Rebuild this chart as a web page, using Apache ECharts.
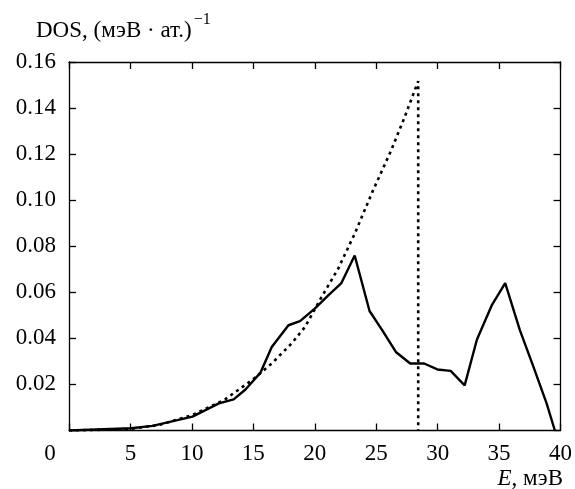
<!DOCTYPE html>
<html><head><meta charset="utf-8">
<script src="https://cdn.jsdelivr.net/npm/echarts@6/dist/echarts.min.js"></script>
<style>html,body{margin:0;padding:0;background:#fff}#c{width:575px;height:489px}</style>
</head><body><div id="c"></div>
<script>
const solidX = [0, 5.06, 6.8, 10.05, 12.2, 13.4, 14.36, 15.57, 16.5, 17.86, 18.8, 20.0, 21.1, 22.17, 23.25, 24.46, 25.5, 26.6, 27.77, 28.9, 29.98, 31.06, 32.2, 33.2, 34.4, 35.5, 36.7, 37.8, 38.87, 39.54];
const solidY = [0, 0.001, 0.002, 0.006, 0.0118, 0.0135, 0.0178, 0.025, 0.0363, 0.0457, 0.0475, 0.0529, 0.0587, 0.064, 0.076, 0.0519, 0.0435, 0.0341, 0.0291, 0.0291, 0.0265, 0.0259, 0.0196, 0.0395, 0.0543, 0.064, 0.0435, 0.0276, 0.0118, 0.0];
const dottedX = [0, 4.66, 7.35, 10.05, 12.7, 14.9, 16.5, 18.1, 19.2, 20.55, 21.9, 23.25, 24.73, 26.2, 27.3, 28.42, 28.42];
const dottedY = [0, 0.0005, 0.0024, 0.0067, 0.0135, 0.0219, 0.0291, 0.0377, 0.0449, 0.0579, 0.0702, 0.0854, 0.1041, 0.1214, 0.1358, 0.1517, 0];
const xTicks = [0, 5, 10, 15, 20, 25, 30, 35, 40];
const yTicks = [0.02, 0.04, 0.06, 0.08, 0.10, 0.12, 0.14, 0.16];
const yTitle = 'DOS, (мэВ · ат.)';
const xTitle = 'E';
const xUnit = ', мэВ';

const FONT = '"Liberation Serif", "DejaVu Serif", serif';
const chart = echarts.init(document.getElementById('c'), null, {renderer: 'canvas'});
const zip = (a, b) => a.map((v, i) => [v, b[i]]);
const axisLineStyle = {color: '#000', width: 1.3};
const lineCfg = {show: true, onZero: false, lineStyle: axisLineStyle};
const tickCfg = {show: true, inside: true, length: 7, lineStyle: axisLineStyle};
chart.setOption({
  animation: false,
  backgroundColor: '#fff',
  grid: {left: 69, right: 11, top: 62, bottom: 58.5, containLabel: false},
  title: {
    text: '{a|' + yTitle + '}{s|−1}',
    left: 31, top: 7,
    textStyle: {rich: {
      a: {fontFamily: FONT, fontSize: 23, fontWeight: 'normal', color: '#000', verticalAlign: 'bottom', lineHeight: 30},
      s: {fontFamily: FONT, fontSize: 16, fontWeight: 'normal', color: '#000', verticalAlign: 'top', padding: [0, 0, 14, 2]}
    }}
  },
  graphic: [{
    type: 'text', right: 12, top: 467,
    style: {
      text: '{i|' + xTitle + '}{n|' + xUnit + '}',
      rich: {
        i: {fontFamily: FONT, fontSize: 23, fontStyle: 'italic', fill: '#000'},
        n: {fontFamily: FONT, fontSize: 23, fill: '#000'}
      }
    }
  }],
  xAxis: [{
    type: 'value', min: 0, max: 40, interval: 5, position: 'bottom',
    axisLine: lineCfg, axisTick: tickCfg, splitLine: {show: false},
    axisLabel: {
      margin: 12, fontFamily: FONT, fontSize: 23, color: '#000',
      showMinLabel: true, showMaxLabel: true,
      formatter: v => xTicks.includes(v) ? (v === 0 ? '{z|0}' : String(v)) : '',
      rich: {z: {fontFamily: FONT, fontSize: 23, color: '#000', padding: [0, 38, 0, 0]}}
    }
  }, {
    type: 'value', min: 0, max: 40, interval: 5, position: 'top',
    axisLine: lineCfg, axisTick: tickCfg, splitLine: {show: false}, axisLabel: {show: false}
  }],
  yAxis: [{
    type: 'value', min: 0, max: 0.16, interval: 0.02, position: 'left',
    axisLine: lineCfg, axisTick: tickCfg, splitLine: {show: false},
    axisLabel: {
      margin: 13, fontFamily: FONT, fontSize: 23, color: '#000',
      formatter: v => {
        const t = yTicks.find(y => Math.abs(y - v) < 1e-9);
        return t === undefined ? '' : t.toFixed(2);
      }
    }
  }, {
    type: 'value', min: 0, max: 0.16, interval: 0.02, position: 'right',
    axisLine: lineCfg, axisTick: tickCfg, splitLine: {show: false}, axisLabel: {show: false}
  }],
  series: [{
    type: 'line', xAxisIndex: 0, yAxisIndex: 0,
    data: zip(dottedX, dottedY), showSymbol: false, symbol: 'none',
    lineStyle: {color: '#000', width: 2.6, type: [3, 4], cap: 'butt'},
    z: 2
  }, {
    type: 'line', xAxisIndex: 0, yAxisIndex: 0,
    data: zip(solidX, solidY), showSymbol: false, symbol: 'none',
    lineStyle: {color: '#000', width: 2.4},
    z: 3
  }]
});
</script></body></html>
